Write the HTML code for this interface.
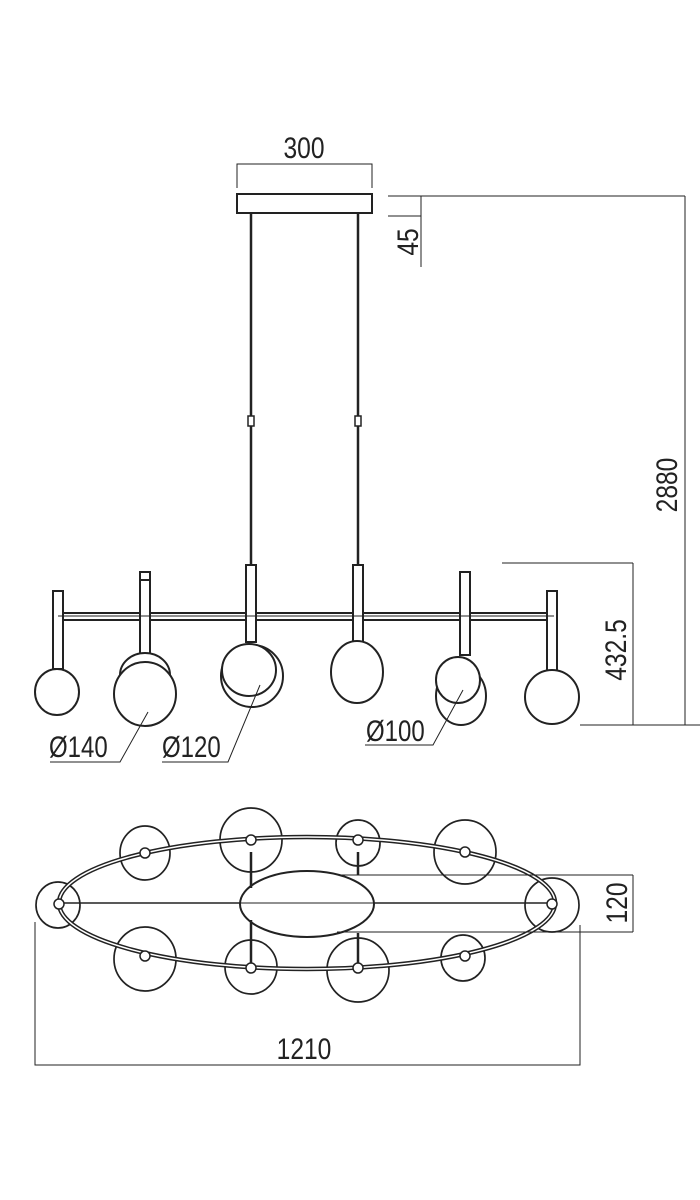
<!DOCTYPE html>
<html><head><style>body{margin:0;background:#fff}svg{display:block}text{font-family:"Liberation Sans",sans-serif;fill:#222}</style></head><body>
<svg width="700" height="1200" viewBox="0 0 700 1200" fill="none" stroke="#222">
<g stroke-width="1">
<polyline points="237,188 237,164 372,164 372,188"/>
<line x1="388" y1="196" x2="685" y2="196"/>
<line x1="388" y1="216" x2="421" y2="216"/>
<line x1="421" y1="196" x2="421" y2="267"/>
<line x1="685" y1="196" x2="685" y2="725"/>
<line x1="580" y1="725" x2="700" y2="725"/>
<line x1="502" y1="563" x2="633" y2="563"/>
<line x1="633" y1="563" x2="633" y2="725"/>
</g>
<g font-size="30" stroke="none">
<text transform="translate(304,158) scale(0.82,1)" text-anchor="middle">300</text>
<text transform="translate(418,242) rotate(-90) scale(0.82,1)" text-anchor="middle">45</text>
<text transform="translate(677,485) rotate(-90) scale(0.82,1)" text-anchor="middle">2880</text>
<text transform="translate(626,650) rotate(-90) scale(0.82,1)" text-anchor="middle">432.5</text>
</g>
<rect x="237" y="194" width="135" height="19" stroke-width="2"/>
<g stroke-width="2.5"><line x1="251" y1="213" x2="251" y2="565"/><line x1="358" y1="213" x2="358" y2="565"/></g>
<rect x="248" y="416" width="6" height="10" fill="#fff" stroke-width="1.5"/>
<rect x="355" y="416" width="6" height="10" fill="#fff" stroke-width="1.5"/>
<g stroke-width="2" fill="#fff">
<rect x="58" y="613" width="496" height="7"/>
<rect x="53" y="591" width="10" height="78"/>
<rect x="140" y="572" width="10" height="86"/>
<line x1="140" y1="580" x2="150" y2="580"/>
<rect x="246" y="565" width="10" height="77"/>
<rect x="353" y="565" width="10" height="79"/>
<rect x="460" y="572" width="10" height="83"/>
<rect x="547" y="591" width="10" height="81"/>
<line x1="58" y1="616" x2="554" y2="616" stroke-width="1"/>
<ellipse cx="57" cy="692" rx="22" ry="23"/>
<ellipse cx="145" cy="675" rx="25" ry="22"/>
<ellipse cx="145" cy="694" rx="31" ry="32"/>
<ellipse cx="252" cy="676" rx="31" ry="31"/>
<ellipse cx="249" cy="670" rx="27" ry="26"/>
<ellipse cx="357" cy="672" rx="26" ry="31"/>
<ellipse cx="461" cy="696" rx="25" ry="29"/>
<ellipse cx="458" cy="680" rx="22" ry="23"/>
<ellipse cx="552" cy="697" rx="27" ry="27"/>
</g>
<g stroke-width="1">
<polyline points="148,712 120,762 50,762"/>
<polyline points="260,685 228,762 162,762"/>
<polyline points="463,690 433,745 365,745"/>
</g>
<g font-size="30" stroke="none">
<text transform="translate(49,757) scale(0.8,1)">Ø140</text>
<text transform="translate(162,757) scale(0.8,1)">Ø120</text>
<text transform="translate(366,741) scale(0.8,1)">Ø100</text>
</g>
<g stroke-width="1.7">
<ellipse cx="145" cy="853" rx="25" ry="27"/>
<ellipse cx="251" cy="840" rx="31" ry="32"/>
<ellipse cx="358" cy="843" rx="22" ry="23"/>
<ellipse cx="465" cy="852" rx="31" ry="32"/>
<ellipse cx="58" cy="905" rx="22" ry="23"/>
<ellipse cx="552" cy="905" rx="27" ry="27"/>
<ellipse cx="145" cy="959" rx="31" ry="32"/>
<ellipse cx="251" cy="967" rx="26" ry="27"/>
<ellipse cx="358" cy="970" rx="31" ry="32"/>
<ellipse cx="463" cy="958" rx="22" ry="23"/>
</g>
<ellipse cx="307" cy="903" rx="248" ry="66" stroke-width="4.5"/>
<ellipse cx="307" cy="903" rx="248" ry="66" stroke="#fff" stroke-width="1.5"/>
<line x1="58" y1="903" x2="553" y2="903" stroke-width="1.5"/>
<ellipse cx="307" cy="904" rx="67" ry="33" fill="#fff" stroke-width="2"/>
<line x1="240" y1="903" x2="374" y2="903" stroke-width="1"/>
<g stroke-width="2.5"><line x1="251" y1="852" x2="251" y2="888"/><line x1="251" y1="920" x2="251" y2="968"/><line x1="358" y1="852" x2="358" y2="875"/><line x1="358" y1="933" x2="358" y2="968"/></g>
<g fill="#fff" stroke-width="1.5">
<circle cx="145" cy="853" r="5"/><circle cx="251" cy="840" r="5"/><circle cx="358" cy="840" r="5"/><circle cx="465" cy="852" r="5"/>
<circle cx="59" cy="904" r="5"/><circle cx="552" cy="904" r="5"/>
<circle cx="145" cy="956" r="5"/><circle cx="251" cy="968" r="5"/><circle cx="358" cy="968" r="5"/><circle cx="465" cy="956" r="5"/>
</g>
<g stroke-width="1">
<line x1="337" y1="875" x2="633" y2="875"/>
<line x1="337" y1="932" x2="633" y2="932"/>
<line x1="633" y1="875" x2="633" y2="932"/>
<polyline points="35,922 35,1065 580,1065 580,925"/>
</g>
<g font-size="30" stroke="none">
<text transform="translate(627,903) rotate(-90) scale(0.82,1)" text-anchor="middle">120</text>
<text transform="translate(304,1059) scale(0.82,1)" text-anchor="middle">1210</text>
</g>
</svg>
</body></html>
